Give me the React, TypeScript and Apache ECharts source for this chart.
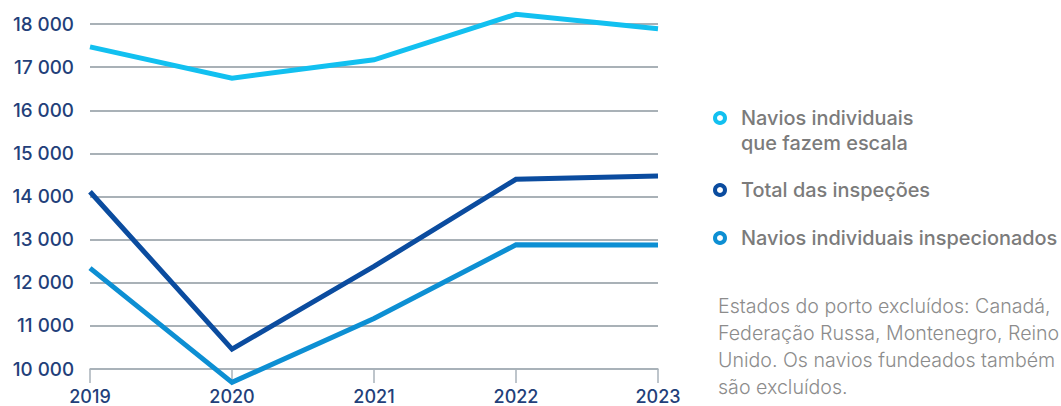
import React, { useEffect, useRef } from "react";
import * as echarts from "echarts";

const years = ["2019", "2020", "2021", "2022", "2023"];
const naviosEscala = [17470, 16745, 17170, 18225, 17890];
const totalInspecoes = [14110, 10460, 12380, 14400, 14475];
const naviosInspecionados = [12340, 9690, 11170, 12880, 12875];

const seriesNames = [
  "Navios individuais que fazem escala",
  "Total das inspeções",
  "Navios individuais inspecionados",
];
const legendLines = [
  ["Navios individuais", "que fazem escala"],
  ["Total das inspeções"],
  ["Navios individuais inspecionados"],
];
const colors = ["#12c0f0", "#0b4c9f", "#0d8fd3"];
const noteLines = [
  "Estados do porto excluídos: Canadá,",
  "Federação Russa, Montenegro, Reino",
  "Unido. Os navios fundeados também",
  "são excluídos.",
];

export default function App() {
  const ref = useRef<HTMLDivElement>(null);
  useEffect(() => {
    if (!ref.current) return;
    const chart = echarts.init(ref.current, null, { renderer: "svg" });
    const legendY = [118, 190, 238];
    const graphic: any[] = [];
    legendLines.forEach((lines, i) => {
      graphic.push({
        type: "circle",
        shape: { cx: 720, cy: legendY[i], r: 5 },
        style: { fill: "#ffffff", stroke: colors[i], lineWidth: 4 },
      });
      lines.forEach((t, j) => {
        graphic.push({
          type: "text",
          x: 741,
          y: legendY[i] + j * 25,
          style: {
            text: t,
            font: "500 19.9px Inter, 'Noto Sans', sans-serif",
            fill: "#7b7b7b",
            verticalAlign: "middle",
          },
        });
      });
    });
    noteLines.forEach((t, i) => {
      graphic.push({
        type: "text",
        x: 718,
        y: 306 + i * 27,
        style: {
          text: t,
          font: "300 19.6px Inter, 'Noto Sans', sans-serif",
          fill: "#8c8c8c",
          verticalAlign: "middle",
        },
      });
    });
    const data = [naviosEscala, totalInspecoes, naviosInspecionados];
    chart.setOption({
      animation: false,
      grid: { left: 90, right: 403, top: 24, bottom: 37, containLabel: false },
      xAxis: {
        type: "category",
        data: years,
        boundaryGap: false,
        axisLine: { show: true, lineStyle: { color: "#a9b2ba", width: 1.5 } },
        axisTick: { show: true, length: 14, lineStyle: { color: "#a9b2ba", width: 1.5 } },
        axisLabel: {
          margin: 18,
          fontSize: 18,
          fontWeight: 500,
          fontFamily: "Inter, 'Noto Sans', sans-serif",
          color: "#233f7a",
        },
      },
      yAxis: {
        type: "value",
        min: 10000,
        max: 18000,
        interval: 1000,
        axisLine: { show: false },
        axisTick: { show: false },
        splitLine: { lineStyle: { color: "#8d979f", width: 1.5 } },
        axisLabel: {
          margin: 16,
          fontSize: 18.8,
          fontWeight: 500,
          fontFamily: "Inter, 'Noto Sans', sans-serif",
          color: "#233f7a",
          formatter: (v: number) => String(v).replace(/\B(?=(\d{3})+(?!\d))/g, " "),
        },
      },
      series: data.map((d, i) => ({
        name: seriesNames[i],
        type: "line",
        data: d,
        clip: false,
        symbol: "none",
        lineStyle: { color: colors[i], width: 5, join: "miter" },
        itemStyle: { color: colors[i] },
        z: 3 + i,
      })),
      graphic,
    });
    return () => chart.dispose();
  }, []);
  return <div ref={ref} style={{ width: 1061, height: 406, position: "absolute", left: 0, top: 0 }} />;
}
